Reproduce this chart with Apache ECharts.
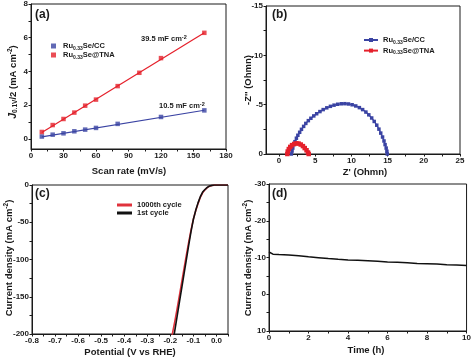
<!DOCTYPE html>
<html>
<head>
<meta charset="utf-8">
<script src="https://cdn.jsdelivr.net/npm/echarts@6/dist/echarts.min.js"></script>
<style>
html,body{margin:0;padding:0;background:#fff;}
#chart{width:474px;height:359px;}
</style>
</head>
<body>
<div id="chart"></div>
<script>
// ---------- Panel (a): double-layer capacitance ----------
const scanRateCC = [10, 20, 30, 40, 50, 60, 80, 120, 160];
const jCC = [0.14, 0.25, 0.33, 0.45, 0.55, 0.65, 0.89, 1.30, 1.69];
const scanRateTNA = [10, 20, 30, 40, 50, 60, 80, 100, 120, 160];
const jTNA = [0.41, 0.82, 1.18, 1.56, 1.97, 2.33, 3.13, 3.92, 4.79, 6.29];
const fitScan = [10, 160];
const fitCC = [0.12, 1.70];
const fitTNA = [0.38, 6.30];
const xTicksA = [0, 30, 60, 90, 120, 150, 180];
const yTicksA = [0, 2, 4, 6, 8];

// ---------- Panel (b): Nyquist plots ----------
const zReCC = [1.7, 1.8, 1.9, 2.05, 2.2, 2.4, 2.6, 2.85, 3.1, 3.4, 3.7, 4.05, 4.4, 4.8, 5.2, 5.65, 6.1, 6.6, 7.1, 7.6, 8.1, 8.6, 9.1, 9.6, 10.1, 10.6, 11.1, 11.55, 12.0, 12.4, 12.8, 13.15, 13.5, 13.8, 14.05, 14.3, 14.5, 14.65, 14.8, 14.9, 14.95];
const zImCC = [0, -0.3, -0.6, -0.95, -1.25, -1.6, -1.9, -2.2, -2.5, -2.8, -3.1, -3.38, -3.62, -3.86, -4.08, -4.3, -4.5, -4.68, -4.83, -4.95, -5.04, -5.09, -5.1, -5.07, -4.99, -4.87, -4.7, -4.5, -4.25, -3.97, -3.65, -3.3, -2.92, -2.52, -2.12, -1.72, -1.32, -0.95, -0.6, -0.28, 0];
const zReTNA = [1.15, 1.2, 1.35, 1.55, 1.8, 2.1, 2.4, 2.7, 3.0, 3.3, 3.55, 3.8, 4.0, 4.1];
const zImTNA = [0, -0.25, -0.5, -0.72, -0.9, -1.02, -1.08, -1.06, -0.96, -0.8, -0.6, -0.38, -0.15, 0];
const xTicksB = [0, 5, 10, 15, 20, 25];
const yTicksB = [-15, -10, -5, 0];

// ---------- Panel (c): polarization curves ----------
const potential = [0.05, 0.0, -0.01, -0.02, -0.03, -0.04, -0.05, -0.06, -0.07, -0.08, -0.09, -0.10, -0.11, -0.12, -0.13, -0.14, -0.15, -0.16, -0.17, -0.18, -0.19, -0.2];
const jFirst = [0, 0, -0.1, -0.5, -1.3, -3.2, -6, -9.5, -15.7, -24, -34, -46, -62, -80, -99, -118, -137, -156, -175, -194, -213, -232];
const jThousand = [0, 0, -0.15, -0.6, -1.6, -3.6, -6.5, -10.5, -16.5, -25, -34.5, -45.5, -60, -76, -93, -111, -129, -147, -165, -182, -198, -216];
const xTicksC = [-0.8, -0.7, -0.6, -0.5, -0.4, -0.3, -0.2, -0.1, 0.0];
const yTicksC = [0, -50, -100, -150, -200];

// ---------- Panel (d): stability ----------
const timeH = [0, 0.05, 0.2, 0.5, 1, 1.5, 2, 2.5, 3, 3.5, 4, 4.5, 5, 5.5, 6, 6.5, 7, 7.5, 8, 8.5, 9, 9.5, 10];
const jTime = [-11.5, -11.1, -10.9, -10.8, -10.7, -10.5, -10.2, -9.95, -9.7, -9.5, -9.35, -9.25, -9.1, -8.95, -8.8, -8.7, -8.55, -8.4, -8.3, -8.2, -8.05, -7.95, -7.85];
const xTicksD = [0, 2, 4, 6, 8, 10];
const yTicksD = [-30, -20, -10, 0, 10];

const zip = (a, b) => a.map((v, i) => [v, b[i]]);
const FONT = '"Liberation Sans", Arial, Helvetica, sans-serif';
const BLUE = '#3a43a3';
const RED = '#e5202b';
const INK = '#1a1a1a';

function minorOf(major) {
  const out = [];
  for (let i = 0; i < major.length; i++) {
    out.push(major[i]);
    if (i < major.length - 1) out.push((major[i] + major[i + 1]) / 2);
  }
  return out;
}

function axis(gridIndex, min, max, labels, opts) {
  opts = opts || {};
  const ticks = opts.ticks || minorOf(labels);
  return Object.assign({
    type: 'value', gridIndex: gridIndex, min: min, max: max,
    splitLine: {show: false},
    axisLine: {show: true, onZero: false, lineStyle: {color: INK, width: 1}},
    axisTick: {show: true, inside: false, length: 2.5, customValues: ticks, lineStyle: {color: INK, width: 1}},
    axisLabel: {show: true, customValues: labels, fontFamily: FONT, fontWeight: 'bold', fontSize: 8, color: INK, margin: 3,
      formatter: opts.fmt || (v => String(Math.round(v * 100) / 100))}
  }, opts.extra || {});
}

const richBase = {
  t: {fontFamily: FONT, fontWeight: 'bold', fontSize: 7.5, color: INK, lineHeight: 10},
  s: {fontFamily: FONT, fontWeight: 'bold', fontSize: 5, color: INK, lineHeight: 5, verticalAlign: 'bottom'},
  p: {fontFamily: FONT, fontWeight: 'bold', fontSize: 5.5, color: INK, lineHeight: 5, verticalAlign: 'top'}
};
const legendNames = {
  a_cc: '{t|Ru}{s|0.33}{t|Se/CC}',
  a_tna: '{t|Ru}{s|0.33}{t|Se@TNA}',
  b_cc: '{t|Ru}{s|0.33}{t|Se/CC}',
  b_tna: '{t|Ru}{s|0.33}{t|Se@TNA}',
  c_1000: '{t|1000th cycle}',
  c_1: '{t|1st cycle}'
};

const nameRich = {
  n: {fontFamily: FONT, fontWeight: 'bold', fontSize: 9.5, color: INK, lineHeight: 12},
  i: {fontFamily: FONT, fontWeight: 'bold', fontStyle: 'italic', fontSize: 10.5, color: INK, lineHeight: 12},
  s: {fontFamily: FONT, fontWeight: 'bold', fontSize: 6.5, color: INK, lineHeight: 6, verticalAlign: 'bottom'},
  p: {fontFamily: FONT, fontWeight: 'bold', fontSize: 6.5, color: INK, lineHeight: 6, verticalAlign: 'top'}
};

function label(text, x, y, size, rot) {
  return {
    type: 'text', x: x, y: y, rotation: rot || 0, z: 100,
    style: {text: text, rich: nameRich, fontFamily: FONT, fontWeight: 'bold', fontSize: size || 9.5, fill: INK,
      align: 'center', verticalAlign: 'middle'}
  };
}
function panelTag(text, x, y) {
  return {type: 'text', left: x, top: y, z: 100,
    style: {text: text, fontFamily: FONT, fontWeight: 'bold', fontSize: 12, fill: INK}};
}
function anno(text, x, y) {
  return {type: 'text', left: x, top: y, z: 100,
    style: {text: text, rich: richBase, fill: INK}};
}

const chart = echarts.init(document.getElementById('chart'), null, {renderer: 'canvas'});
const option = {
  backgroundColor: '#fff',
  animation: false,
  grid: [
    {left: 31, top: 4, width: 195, height: 145, show: true, borderColor: INK, borderWidth: 1},
    {left: 266, top: 6, width: 194, height: 148, show: true, borderColor: INK, borderWidth: 1},
    {left: 32, top: 185, width: 196, height: 149, show: true, borderColor: INK, borderWidth: 1},
    {left: 269, top: 184, width: 199, height: 147, show: true, borderColor: INK, borderWidth: 1}
  ],
  xAxis: [
    axis(0, 0, 180, xTicksA),
    axis(1, -1.8, 25, xTicksB),
    axis(2, -0.8, 0.05, xTicksC, {ticks: [-0.8, -0.75, -0.7, -0.65, -0.6, -0.55, -0.5, -0.45, -0.4, -0.35, -0.3, -0.25, -0.2, -0.15, -0.1, -0.05, 0, 0.05], fmt: v => v.toFixed(1)}),
    axis(3, 0, 10, xTicksD)
  ],
  yAxis: [
    axis(0, -0.6, 8, yTicksA, {ticks: [0, 1, 2, 3, 4, 5, 6, 7, 8]}),
    axis(1, -15, 0, yTicksB, {extra: {inverse: true}}),
    axis(2, -200, 0, yTicksC.slice().reverse()),
    axis(3, -30, 10, yTicksD, {extra: {inverse: true}})
  ],
  legend: [
    {data: ['a_cc', 'a_tna'], orient: 'vertical', left: 46, top: 37, itemWidth: 5, itemHeight: 5, itemGap: 0,
      formatter: n => legendNames[n], textStyle: {rich: richBase, padding: [0, 0, 0, 2]}, selectedMode: false},
    {data: ['b_cc', 'b_tna'], orient: 'vertical', left: 358, top: 31, itemWidth: 14, itemHeight: 5, itemGap: 1.6,
      formatter: n => legendNames[n], textStyle: {rich: richBase}, selectedMode: false},
    {data: ['c_1000', 'c_1'], orient: 'vertical', left: 112, top: 196, icon: 'rect', itemWidth: 15, itemHeight: 3, itemGap: 0,
      formatter: n => legendNames[n], textStyle: {rich: {t: Object.assign({}, richBase.t, {lineHeight: 9})}}, selectedMode: false}
  ],
  graphic: [
    panelTag('(a)', 35, 9), panelTag('(b)', 272, 9), panelTag('(c)', 35, 188), panelTag('(d)', 272, 188),
    anno('{t|39.5 mF cm}{p|-2}', 141, 34),
    anno('{t|10.5 mF cm}{p|-2}', 159, 101),
    label('Scan rate (mV/s)', 129, 171),
    label("Z' (Ohmn)", 365, 172),
    label('Potential (V vs RHE)', 130, 352),
    label('Time (h)', 366, 350),
    label('{i|J}{s|0.1V}{n|/2 (mA cm}{p|-2}{n|)}', 13, 82, 9.5, Math.PI / 2),
    label("-Z'' (Ohmn)", 248, 80, 9.5, Math.PI / 2),
    label('{n|Current density (mA cm}{p|-2}{n|)}', 9, 258, 9.5, Math.PI / 2),
    label('{n|Current density (mA cm}{p|-2}{n|)}', 248, 258, 9.5, Math.PI / 2)
  ],
  series: [
    {name: 'a_cc_fit', type: 'line', xAxisIndex: 0, yAxisIndex: 0, data: zip(fitScan, fitCC), symbol: 'none', lineStyle: {color: BLUE, width: 1.2}, z: 2},
    {name: 'a_tna_fit', type: 'line', xAxisIndex: 0, yAxisIndex: 0, data: zip(fitScan, fitTNA), symbol: 'none', lineStyle: {color: RED, width: 1.2}, z: 2},
    {name: 'a_cc', type: 'scatter', xAxisIndex: 0, yAxisIndex: 0, data: zip(scanRateCC, jCC), symbol: 'rect', symbolSize: 4.5, itemStyle: {color: BLUE}, z: 3},
    {name: 'a_tna', type: 'scatter', xAxisIndex: 0, yAxisIndex: 0, data: zip(scanRateTNA, jTNA), symbol: 'rect', symbolSize: 4.5, itemStyle: {color: RED}, z: 3},

    {name: 'b_cc', type: 'line', xAxisIndex: 1, yAxisIndex: 1, data: zip(zReCC, zImCC), symbol: 'rect', symbolSize: 3.5, showAllSymbol: true,
      itemStyle: {color: BLUE}, lineStyle: {color: BLUE, width: 1.3}, z: 2},
    {name: 'b_tna', type: 'line', xAxisIndex: 1, yAxisIndex: 1, data: zip(zReTNA, zImTNA), symbol: 'rect', symbolSize: 4.5, showAllSymbol: true,
      itemStyle: {color: RED}, lineStyle: {color: RED, width: 2.5}, z: 3},

    {name: 'c_1000', type: 'line', xAxisIndex: 2, yAxisIndex: 2, data: zip(potential, jThousand), symbol: 'none', clip: true,
      itemStyle: {color: '#e0323c'}, lineStyle: {color: '#e0323c', width: 1.6}, z: 2},
    {name: 'c_1', type: 'line', xAxisIndex: 2, yAxisIndex: 2, data: zip(potential, jFirst), symbol: 'none', clip: true,
      itemStyle: {color: '#111'}, lineStyle: {color: '#111', width: 1.6}, z: 3},

    {name: 'd', type: 'line', xAxisIndex: 3, yAxisIndex: 3, data: zip(timeH, jTime), symbol: 'none',
      lineStyle: {color: '#111', width: 1.5}, z: 2}
  ]
};
chart.setOption(option);
</script>
</body>
</html>
